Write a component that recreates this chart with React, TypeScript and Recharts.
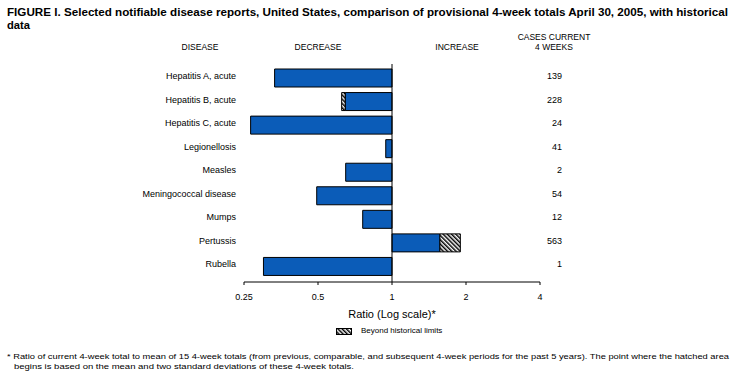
import { BarChart, Bar, XAxis, YAxis, ReferenceLine, Legend } from 'recharts';

const diseases = [
  'Hepatitis A, acute',
  'Hepatitis B, acute',
  'Hepatitis C, acute',
  'Legionellosis',
  'Measles',
  'Meningococcal disease',
  'Mumps',
  'Pertussis',
  'Rubella',
];
// ratio of current 4-week total to historical mean
const ratios = [0.333, 0.624, 0.266, 0.943, 0.648, 0.494, 0.76, 1.897, 0.3];
// point where the hatched (beyond historical limits) part begins
const limits: (number | null)[] = [null, 0.646, null, null, null, null, null, 1.564, null];
const cases = [139, 228, 24, 41, 2, 54, 12, 563, 1];
const ratioTicks = [0.25, 0.5, 1, 2, 4];

const data = diseases.map((disease, i) => {
  const r = ratios[i];
  const lim = limits[i];
  const inner = lim ?? r;
  return {
    disease,
    within: [Math.min(inner, 1), Math.max(inner, 1)],
    beyond: lim == null ? null : [Math.min(r, lim), Math.max(r, lim)],
  };
});

const FONT = '"Liberation Sans", Arial, Helvetica, sans-serif';
const BLUE = '#0b5cb8';

const HatchPattern = ({ id }: { id: string }) => (
  <pattern id={id} width={3} height={3} patternUnits="userSpaceOnUse" patternTransform="rotate(-45)">
    <rect width={3} height={3} fill="#fff" />
    <rect width={1.5} height={3} fill="#000" />
  </pattern>
);

const DiseaseTick = (props: any) => {
  const { x, y, payload } = props;
  return (
    <text x={x} y={y - 2} dy="0.355em" textAnchor="end" fontSize={9} fill="#000" fontFamily={FONT}>
      {payload.value}
    </text>
  );
};

const CasesTick = (props: any) => {
  const { x, y, index } = props;
  return (
    <text x={x + 14} y={y - 2} dy="0.355em" textAnchor="end" fontSize={9} fill="#000" fontFamily={FONT}>
      {cases[index]}
    </text>
  );
};

const LegendKey = () => (
  <div style={{ display: 'flex', alignItems: 'center', fontSize: 8, lineHeight: '10px', fontFamily: FONT, color: '#000' }}>
    <svg width={16} height={7}>
      <defs>
        <HatchPattern id="hatchKey" />
      </defs>
      <rect x={0.5} y={0.5} width={15} height={6} fill="url(#hatchKey)" stroke="#000" />
    </svg>
    <span style={{ marginLeft: 9 }}>Beyond historical limits</span>
  </div>
);

export default function App() {
  return (
    <div style={{ position: 'absolute', left: 0, top: 0, width: 738, height: 382, background: '#fff', fontFamily: FONT }}>
      <BarChart
        width={738}
        height={382}
        data={data}
        layout="vertical"
        barSize={18}
        margin={{ top: 64, right: 158, bottom: 64, left: 0 }}
      >
        <defs>
          <HatchPattern id="hatch" />
        </defs>
        <XAxis
          type="number"
          scale="log"
          domain={[0.25, 4]}
          ticks={ratioTicks}
          allowDataOverflow
          height={36}
          stroke="#000"
          tickSize={3}
          tickMargin={9}
          tick={{ fontSize: 9, fill: '#000', fontFamily: FONT }}
          tickFormatter={(v: number) => String(v)}
          label={{ value: 'Ratio (Log scale)*', position: 'insideBottom', offset: 0, fontSize: 11, fill: '#000', fontFamily: FONT }}
        />
        <YAxis
          yAxisId="left"
          type="category"
          dataKey="disease"
          width={244}
          axisLine={false}
          tickLine={false}
          padding={{ top: 2, bottom: 4 }}
          tick={<DiseaseTick />}
          interval={0}
        />
        <YAxis
          yAxisId="right"
          orientation="right"
          type="category"
          dataKey="disease"
          width={40}
          axisLine={false}
          tickLine={false}
          padding={{ top: 2, bottom: 4 }}
          tick={<CasesTick />}
          interval={0}
        />
        <Bar yAxisId="right" dataKey="beyond" fill="url(#hatch)" stroke="#000" strokeWidth={1} isAnimationActive={false} />
        <Bar yAxisId="left" dataKey="within" fill={BLUE} stroke="#000" strokeWidth={1} isAnimationActive={false} />
        <ReferenceLine yAxisId="left" x={1} stroke="#000" strokeWidth={1} />
        <Legend
          layout="horizontal"
          verticalAlign="middle"
          align="center"
          wrapperStyle={{ top: 326, left: 336, width: 140 }}
          content={() => <LegendKey />}
        />
      </BarChart>
      <svg width={738} height={382} style={{ position: 'absolute', left: 0, top: 0, pointerEvents: 'none' }} fontFamily={FONT} fill="#000">
        <text x={7} y={16} fontSize={11.5} fontWeight="bold" textLength={721} lengthAdjust="spacingAndGlyphs">
          FIGURE I. Selected notifiable disease reports, United States, comparison of provisional 4-week totals April 30, 2005, with historical
        </text>
        <text x={7} y={29} fontSize={11.5} fontWeight="bold" textLength={23} lengthAdjust="spacingAndGlyphs">
          data
        </text>
        <text x={200} y={50} fontSize={8.5} textAnchor="middle">DISEASE</text>
        <text x={318} y={50} fontSize={8.5} textAnchor="middle">DECREASE</text>
        <text x={457} y={50} fontSize={8.5} textAnchor="middle">INCREASE</text>
        <text x={554} y={40} fontSize={8.5} textAnchor="middle">CASES CURRENT</text>
        <text x={554} y={50} fontSize={8.5} textAnchor="middle">4 WEEKS</text>
        <text x={7} y={359} fontSize={8} textLength={722} lengthAdjust="spacingAndGlyphs">
          * Ratio of current 4-week total to mean of 15 4-week totals (from previous, comparable, and subsequent 4-week periods for the past 5 years). The point where the hatched area
        </text>
        <text x={14} y={369} fontSize={8} textLength={340} lengthAdjust="spacingAndGlyphs">
          begins is based on the mean and two standard deviations of these 4-week totals.
        </text>
      </svg>
    </div>
  );
}
